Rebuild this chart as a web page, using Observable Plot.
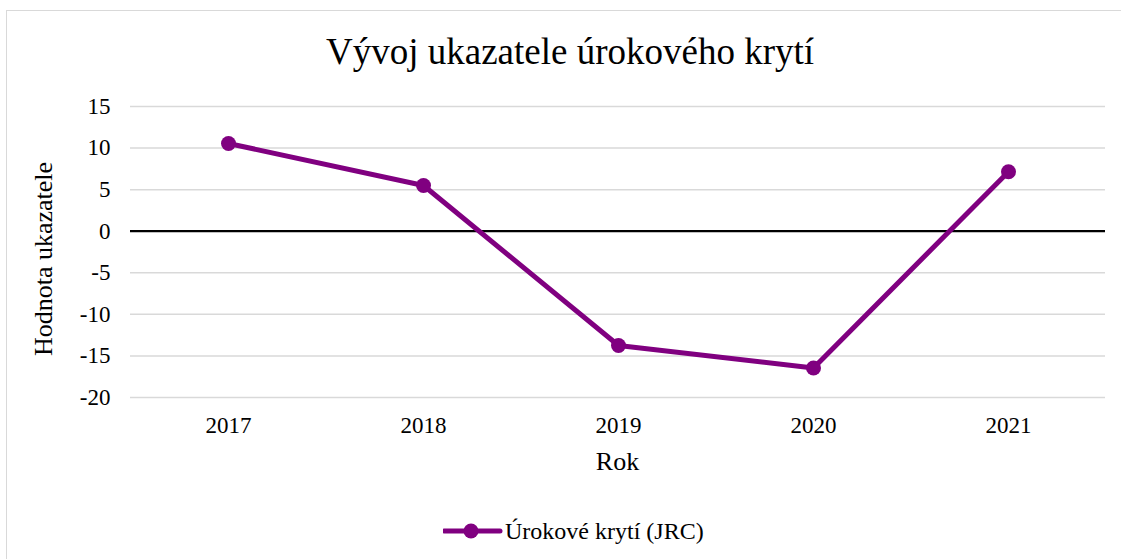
<!DOCTYPE html>
<html>
<head>
<meta charset="utf-8">
<script src="https://cdn.jsdelivr.net/npm/d3@7"></script>
<script src="https://cdn.jsdelivr.net/npm/@observablehq/plot@0.6"></script>
<style>
  html, body { margin:0; padding:0; background:#fff; }
  body { width:1121px; height:559px; position:relative; overflow:hidden; font-family:"Liberation Serif","Times New Roman",serif; color:#000; }
  .frame { position:absolute; left:6px; top:10px; width:1200px; height:600px; border-left:1.5px solid #d9d9d9; border-top:1.5px solid #d9d9d9; }
  #chart { position:absolute; left:0; top:0; }
  #chart svg, #chart svg text { font-family:"Liberation Serif","Times New Roman",serif !important; font-size:23px !important; }
  .title { position:absolute; left:0; top:33px; width:1140px; text-align:center; font-size:37px; line-height:37px; white-space:nowrap; }
  .xlabel { position:absolute; left:467.5px; top:449px; width:300px; text-align:center; font-size:26px; line-height:26px; }
  .ylabel { position:absolute; left:-106px; top:243.5px; width:300px; height:30px; text-align:center; font-size:26px; line-height:30px; transform:rotate(-90deg); white-space:nowrap; }
  .legend { position:absolute; left:443px; top:516px; display:flex; align-items:center; height:30px; font-size:24px; line-height:30px; white-space:nowrap; }
</style>
</head>
<body>
<div class="frame"></div>
<div id="chart"></div>
<div class="title">Vývoj ukazatele úrokového krytí</div>
<div class="xlabel">Rok</div>
<div class="ylabel">Hodnota ukazatele</div>
<div class="legend"><svg width="60" height="20" style="margin-right:2px"><line x1="1" y1="10" x2="57" y2="10" stroke="#800080" stroke-width="5" stroke-linecap="round"/><circle cx="28" cy="10" r="7.5" fill="#800080"/></svg><span>Úrokové krytí (JRC)</span></div>
<script>
const years = ["2017", "2018", "2019", "2020", "2021"];
const values = [10.55, 5.5, -13.75, -16.45, 7.15];
const yTicks = [-20, -15, -10, -5, 0, 5, 10, 15];
const seriesName = "Úrokové krytí (JRC)";

const data = years.map((y, i) => ({year: y, value: values[i], series: seriesName}));

const chart = Plot.plot({
  width: 1121,
  height: 500,
  marginLeft: 130,
  marginRight: 16,
  marginTop: 106,
  marginBottom: 103,
  style: {fontFamily: "Liberation Serif, serif", fontSize: "23px", color: "#000", background: "transparent", overflow: "visible"},
  x: {type: "point", domain: years, padding: 0.5, label: null, tickSize: 0, tickPadding: 19},
  y: {domain: [-20, 15], ticks: yTicks, label: null, tickSize: 0, tickPadding: 20, tickFormat: d => String(d)},
  marks: [
    Plot.ruleY(yTicks.filter(d => d !== 0), {stroke: "#d9d9d9", strokeWidth: 1.5}),
    Plot.ruleY([0], {stroke: "#000", strokeWidth: 2.2}),
    Plot.line(data, {x: "year", y: "value", stroke: "#800080", strokeWidth: 5, strokeLinejoin: "round"}),
    Plot.dot(data, {x: "year", y: "value", fill: "#800080", r: 7.5})
  ]
});
document.getElementById("chart").appendChild(chart);
</script>
</body>
</html>
